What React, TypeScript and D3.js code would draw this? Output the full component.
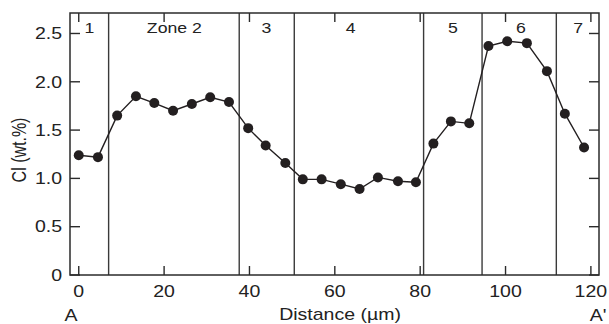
import React, { useEffect, useRef } from "react";
import * as d3 from "d3";

// distance along the traverse (µm) and Cl content (wt.%)
const distance = [0, 4.5, 9, 13.4, 17.7, 22.1, 26.5, 30.8, 35.2, 39.7, 43.8, 48.4, 52.5, 56.9, 61.4, 65.8, 70.1, 74.8, 79.0, 83.1, 87.2, 91.5, 96.0, 100.4, 105.0, 109.7, 113.9, 118.4];
const chlorine = [1.24, 1.22, 1.65, 1.85, 1.78, 1.70, 1.77, 1.84, 1.79, 1.52, 1.34, 1.16, 0.99, 0.99, 0.94, 0.89, 1.01, 0.97, 0.96, 1.36, 1.59, 1.57, 2.37, 2.42, 2.40, 2.11, 1.67, 1.32];

// zone boundaries and labels
const zoneBounds = [7, 37.6, 50.5, 80.8, 94.5, 111.9];
const zoneLabels = ["1", "Zone 2", "3", "4", "5", "6", "7"];
const zoneLabelPos = [2.5, 22.4, 44, 63.7, 87.7, 103.6, 117];

const xTicks = [0, 20, 40, 60, 80, 100, 120];
const yTicks = [0, 0.5, 1.0, 1.5, 2.0, 2.5];

export default function App() {
    const ref = useRef<SVGSVGElement>(null);

    useEffect(() => {
        const width = 609, height = 324;
        const margin = { top: 13, right: 10, bottom: 49, left: 70 };
        const font = "'Liberation Sans', Arial, Helvetica, sans-serif";
        const stretch = 1.22; // the original lettering is a bit wide

        const svg = d3.select(ref.current);
        svg.selectAll("*").remove();
        svg.attr("width", width).attr("height", height);

        const x = d3.scaleLinear().domain([-2.05, 121.9]).range([margin.left, width - margin.right]);
        const y = d3.scaleLinear().domain([0, 2.712]).range([height - margin.bottom, margin.top]);

        const x0 = margin.left, x1 = width - margin.right;
        const y0 = height - margin.bottom, y1 = margin.top;
        const stroke = "#2b2b2b";
        const tickLen = 9;

        const label = (g: any, tx: number, ty: number, txt: string, anchor: string, size = 16, dy = "0") =>
            g.append("text")
                .attr("transform", `translate(${tx},${ty}) scale(${stretch},1)`)
                .attr("dy", dy)
                .attr("text-anchor", anchor)
                .attr("font-family", font)
                .attr("font-size", size)
                .attr("fill", "#222")
                .text(txt);

        // zone boundary lines
        svg.append("g").selectAll("line")
            .data(zoneBounds)
            .enter()
            .append("line")
            .attr("x1", d => x(d)).attr("x2", d => x(d))
            .attr("y1", y0).attr("y2", y1)
            .attr("stroke", "#3a3a3a")
            .attr("stroke-width", 1.4);

        // ticks (inward, all four sides)
        const tg = svg.append("g").attr("stroke", stroke).attr("stroke-width", 1.4);
        xTicks.forEach(t => {
            tg.append("line").attr("x1", x(t)).attr("x2", x(t)).attr("y1", y0).attr("y2", y0 - tickLen);
            tg.append("line").attr("x1", x(t)).attr("x2", x(t)).attr("y1", y1).attr("y2", y1 + tickLen);
        });
        yTicks.forEach(t => {
            tg.append("line").attr("x1", x0).attr("x2", x0 + tickLen + 1).attr("y1", y(t)).attr("y2", y(t));
            tg.append("line").attr("x1", x1).attr("x2", x1 - tickLen - 1).attr("y1", y(t)).attr("y2", y(t));
        });

        // frame
        svg.append("rect")
            .attr("x", x0).attr("y", y1)
            .attr("width", x1 - x0).attr("height", y0 - y1)
            .attr("fill", "none")
            .attr("stroke", stroke)
            .attr("stroke-width", 1.5);

        // tick labels
        const xl = svg.append("g");
        xTicks.forEach(t => label(xl, x(t), y0 + 22, String(t), "middle"));

        const yl = svg.append("g");
        yTicks.forEach(t => label(yl, x0 - 8, y(t), t === 0 ? "0" : d3.format(".1f")(t), "end", 16, "0.36em"));

        // zone labels
        const zl = svg.append("g");
        zoneLabels.forEach((z, i) => label(zl, x(zoneLabelPos[i]), 33, z, "middle", 14.5));

        // data line and dots
        const pts = distance.map((d, i) => [d, chlorine[i]] as [number, number]);
        svg.append("path")
            .datum(pts)
            .attr("fill", "none")
            .attr("stroke", "#231f20")
            .attr("stroke-width", 1.4)
            .attr("d", d3.line().x(d => x(d[0])).y(d => y(d[1])));

        svg.append("g").selectAll("circle")
            .data(pts)
            .enter()
            .append("circle")
            .attr("cx", d => x(d[0]))
            .attr("cy", d => y(d[1]))
            .attr("r", 5)
            .attr("fill", "#231f20");

        // axis titles
        label(svg, 340, 320, "Distance (µm)", "middle");
        label(svg, 71, 321, "A", "middle");
        label(svg, 598, 321, "A'", "middle");

        svg.append("text")
            .attr("transform", `translate(26,150) scale(${stretch},1) rotate(-90)`)
            .attr("text-anchor", "middle")
            .attr("font-family", font)
            .attr("font-size", 16)
            .attr("fill", "#222")
            .text("Cl (wt.%)");
    }, []);

    return (
        <svg ref={ref} style={{ position: "absolute", left: 0, top: 0, background: "#fff" }}></svg>
    );
}
